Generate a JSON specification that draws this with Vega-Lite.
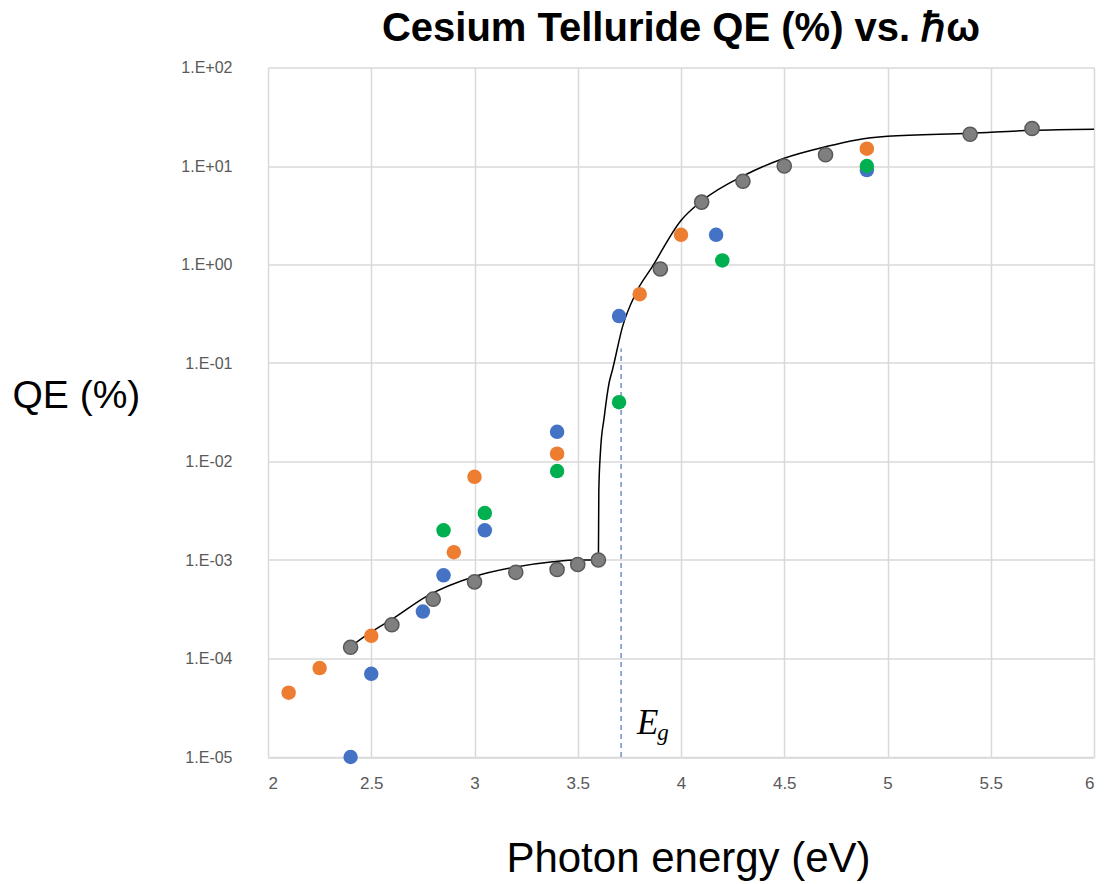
{
  "$schema": "https://vega.github.io/schema/vega-lite/v6.json",
  "autosize": {"type": "none"},
  "padding": {"left": 268, "top": 67.5, "right": 10, "bottom": 127},
  "width": 826,
  "height": 689.5,
  "background": "white",
  "title": {
    "text": "Cesium Telluride QE (%) vs. ℏω",
    "font": "Liberation Sans",
    "fontWeight": "bold",
    "fontSize": 40,
    "color": "#000000",
    "anchor": "middle",
    "baseline": "bottom",
    "offset": -29
  },
  "config": {
    "view": {"stroke": null},
    "axis": {
      "gridColor": "#d9d9d9",
      "gridWidth": 1.5,
      "domainColor": "#d9d9d9",
      "domainWidth": 1.5,
      "ticks": false,
      "labelFont": "Liberation Sans",
      "labelFontSize": 16,
      "labelColor": "#595959",
      "titleFont": "Liberation Sans",
      "titleFontWeight": "normal",
      "titleColor": "#000000"
    }
  },
  "datasets": {
    "fit": [
      {"E": 2.4, "QE": 0.000132},
      {"E": 2.5, "QE": 0.000186},
      {"E": 2.6, "QE": 0.00025},
      {"E": 2.77, "QE": 0.00043},
      {"E": 3.0, "QE": 0.00068},
      {"E": 3.2, "QE": 0.00085},
      {"E": 3.38, "QE": 0.00096},
      {"E": 3.5, "QE": 0.001},
      {"E": 3.6, "QE": 0.001},
      {"E": 3.602, "QE": 0.005},
      {"E": 3.61, "QE": 0.0126},
      {"E": 3.628, "QE": 0.028},
      {"E": 3.652, "QE": 0.063},
      {"E": 3.668, "QE": 0.085},
      {"E": 3.717, "QE": 0.234},
      {"E": 3.781, "QE": 0.51},
      {"E": 3.861, "QE": 0.95},
      {"E": 4.0, "QE": 2.8},
      {"E": 4.1, "QE": 4.4},
      {"E": 4.31, "QE": 8.1},
      {"E": 4.5, "QE": 12.0},
      {"E": 4.7, "QE": 15.7},
      {"E": 4.85, "QE": 18.4},
      {"E": 5.0, "QE": 20.0},
      {"E": 5.4, "QE": 21.5},
      {"E": 5.7, "QE": 23.0},
      {"E": 6.0, "QE": 23.6}
    ],
    "gray": [
      {"E": 2.4, "QE": 0.00013},
      {"E": 2.6, "QE": 0.00022},
      {"E": 2.8, "QE": 0.0004},
      {"E": 3.0, "QE": 0.0006},
      {"E": 3.2, "QE": 0.00075},
      {"E": 3.4, "QE": 0.0008},
      {"E": 3.5, "QE": 0.0009},
      {"E": 3.6, "QE": 0.001},
      {"E": 3.9, "QE": 0.9},
      {"E": 4.1, "QE": 4.3},
      {"E": 4.3, "QE": 7.0},
      {"E": 4.5, "QE": 10.0},
      {"E": 4.7, "QE": 13.0},
      {"E": 5.4, "QE": 21.0},
      {"E": 5.7, "QE": 24.0}
    ],
    "colored": [
      {"E": 2.1, "QE": 0.000045, "s": "orange"},
      {"E": 2.25, "QE": 0.00008, "s": "orange"},
      {"E": 2.5, "QE": 0.00017, "s": "orange"},
      {"E": 2.9, "QE": 0.0012, "s": "orange"},
      {"E": 3.0, "QE": 0.007, "s": "orange"},
      {"E": 3.4, "QE": 0.012, "s": "orange"},
      {"E": 3.8, "QE": 0.5, "s": "orange"},
      {"E": 4.0, "QE": 2.0, "s": "orange"},
      {"E": 4.9, "QE": 15.0, "s": "orange"},
      {"E": 2.4, "QE": 0.00001, "s": "blue"},
      {"E": 2.5, "QE": 0.00007, "s": "blue"},
      {"E": 2.75, "QE": 0.0003, "s": "blue"},
      {"E": 2.85, "QE": 0.0007, "s": "blue"},
      {"E": 3.05, "QE": 0.002, "s": "blue"},
      {"E": 3.4, "QE": 0.02, "s": "blue"},
      {"E": 3.7, "QE": 0.3, "s": "blue"},
      {"E": 4.17, "QE": 2.0, "s": "blue"},
      {"E": 4.9, "QE": 9.1, "s": "blue"},
      {"E": 2.85, "QE": 0.002, "s": "green"},
      {"E": 3.05, "QE": 0.003, "s": "green"},
      {"E": 3.4, "QE": 0.008, "s": "green"},
      {"E": 3.7, "QE": 0.04, "s": "green"},
      {"E": 4.2, "QE": 1.1, "s": "green"},
      {"E": 4.9, "QE": 10.0, "s": "green"}
    ],
    "gap": [
      {"E": 3.71, "lo": 0.00001, "hi": 0.14}
    ],
    "labels": [
      {"E": 3.787, "QE": 0.0000171, "t": "E", "k": "main"},
      {"E": 3.885, "QE": 0.0000148, "t": "g", "k": "sub"}
    ]
  },
  "encoding": {
    "x": {
      "field": "E",
      "type": "quantitative",
      "scale": {"domain": [2, 6], "nice": false, "zero": false},
      "axis": {
        "values": [2, 2.5, 3, 3.5, 4, 4.5, 5, 5.5, 6],
        "labelExpr": "'' + datum.value",
        "labelPadding": 18,
        "labelFontSize": 17,
        "title": "Photon energy (eV)",
        "titleFontSize": 42,
        "titleBaseline": "alphabetic",
        "titleY": 114,
        "titleX": 420,
        "titleAnchor": "middle",
        "titleAlign": "center"
      }
    }
  },
  "layer": [
    {
      "data": {"name": "fit"},
      "mark": {"type": "line", "color": "#000000", "strokeWidth": 1.5, "interpolate": "monotone"},
      "encoding": {
        "y": {
          "field": "QE",
          "type": "quantitative",
          "scale": {"type": "log", "domain": [0.00001, 100], "nice": false},
          "axis": {
            "values": [0.00001, 0.0001, 0.001, 0.01, 0.1, 1, 10, 100],
            "labelExpr": "'1.E' + (datum.value >= 1 ? '+' : '-') + (abs(round(log(datum.value) / LN10)) < 10 ? '0' : '') + abs(round(log(datum.value) / LN10))",
            "labelPadding": 36,
            "domain": false,
            "title": "QE (%)",
            "titleFontSize": 39,
            "titleAngle": 0,
            "titleAlign": "left",
            "titleBaseline": "middle",
            "titleX": -256,
            "titleY": 328
          }
        }
      }
    },
    {
      "data": {"name": "gap"},
      "mark": {"type": "rule", "color": "#6f8fd0", "strokeWidth": 1.5, "strokeDash": [5, 4]},
      "encoding": {
        "y": {"field": "lo", "type": "quantitative"},
        "y2": {"field": "hi"}
      }
    },
    {
      "data": {"name": "gray"},
      "mark": {"type": "point", "filled": true, "size": 200, "color": "#7f7f7f", "stroke": "#595959", "strokeWidth": 1.5, "opacity": 1},
      "encoding": {
        "y": {"field": "QE", "type": "quantitative"}
      }
    },
    {
      "data": {"name": "colored"},
      "mark": {"type": "point", "filled": true, "size": 210, "opacity": 1},
      "encoding": {
        "y": {"field": "QE", "type": "quantitative"},
        "color": {
          "field": "s",
          "type": "nominal",
          "scale": {"domain": ["orange", "blue", "green"], "range": ["#ED7D31", "#4472C4", "#00B050"]},
          "legend": null
        }
      }
    },
    {
      "data": {"name": "labels"},
      "transform": [{"filter": "datum.k == 'main'"}],
      "mark": {"type": "text", "font": "Liberation Serif", "fontStyle": "italic", "fontSize": 35, "align": "left", "baseline": "alphabetic", "color": "#000000"},
      "encoding": {
        "y": {"field": "QE", "type": "quantitative"},
        "text": {"field": "t"}
      }
    },
    {
      "data": {"name": "labels"},
      "transform": [{"filter": "datum.k == 'sub'"}],
      "mark": {"type": "text", "font": "Liberation Serif", "fontStyle": "italic", "fontSize": 23, "align": "left", "baseline": "alphabetic", "color": "#000000"},
      "encoding": {
        "y": {"field": "QE", "type": "quantitative"},
        "text": {"field": "t"}
      }
    }
  ]
}
